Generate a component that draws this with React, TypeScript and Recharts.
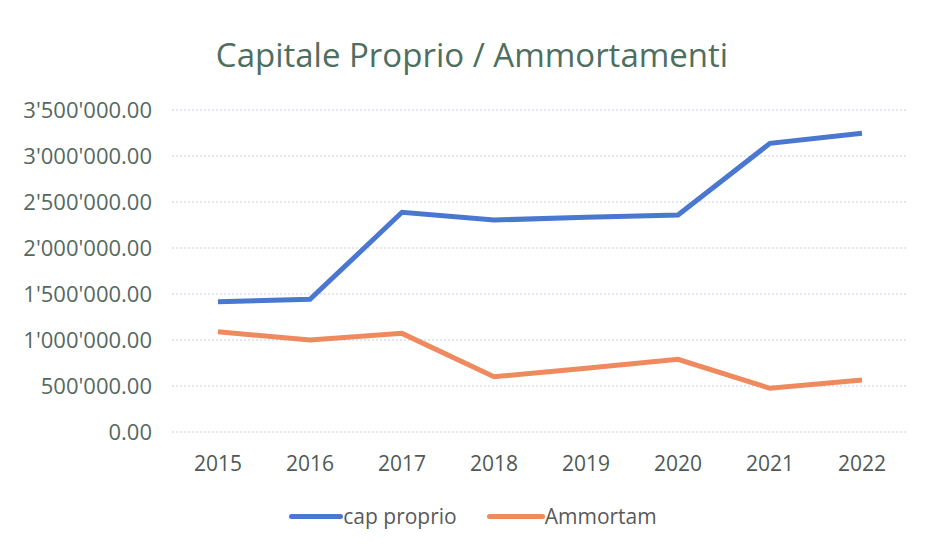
import React from "react";
import { LineChart, Line, XAxis, YAxis, CartesianGrid, Legend } from "recharts";

const years = ["2015", "2016", "2017", "2018", "2019", "2020", "2021", "2022"];
const capProprio = [1416000, 1442000, 2388000, 2304000, 2333000, 2359000, 3138000, 3247000];
const ammortam = [1090000, 1000000, 1072000, 601000, 692000, 790000, 475000, 565000];
const yTicks = [0, 500000, 1000000, 1500000, 2000000, 2500000, 3000000, 3500000];

const data = years.map((y, i) => ({ year: y, cap: capProprio[i], amm: ammortam[i] }));

const fmt = (v: number) => {
    const [int, dec] = v.toFixed(2).split(".");
    return int.replace(/\B(?=(\d{3})+(?!\d))/g, "'") + "." + dec;
};

const font = "'Open Sans', 'Noto Sans', sans-serif";

const LegendContent = () => (
    <div style={{ display: "flex", justifyContent: "center", alignItems: "center", fontFamily: font, fontSize: 21, color: "#595959", marginLeft: 38, height: 24 }}>
        <span style={{ display: "inline-block", width: 54, height: 5, background: "#4a78d0", borderRadius: 3 }} />
        <span style={{ marginRight: 30 }}>cap proprio</span>
        <span style={{ display: "inline-block", width: 58, height: 5, background: "#ee8a5e", borderRadius: 3 }} />
        <span>Ammortam</span>
    </div>
);

export default function App() {
    return (
        <div style={{ position: "absolute", left: 0, top: 0, width: 927, height: 548, background: "#fff" }}>
            <div style={{ position: "absolute", top: 32, left: 0, width: 944, textAlign: "center", fontFamily: font, fontSize: 33, color: "#4e6e60" }}>
                Capitale Proprio / Ammortamenti
            </div>
            <LineChart width={927} height={548} data={data} margin={{ top: 110, right: 19, bottom: 42, left: 0 }}>
                <CartesianGrid vertical={false} stroke="#c5cde0" strokeDasharray="2 2" />
                <XAxis
                    dataKey="year"
                    axisLine={false}
                    tickLine={false}
                    height={50}
                    padding={{ left: 46, right: 46 }}
                    tick={{ fill: "#4d5a55", fontSize: 21, fontFamily: font }}
                    tickMargin={18}
                />
                <YAxis
                    ticks={yTicks}
                    domain={[0, 3500000]}
                    tickFormatter={fmt}
                    axisLine={false}
                    tickLine={false}
                    width={172}
                    tick={{ fill: "#566960", fontSize: 22, fontFamily: font }}
                    tickMargin={14}
                />
                <Legend verticalAlign="bottom" content={<LegendContent />} wrapperStyle={{ bottom: 20 }} />
                <Line type="linear" dataKey="cap" stroke="#4a78d0" strokeWidth={5} dot={false} isAnimationActive={false} />
                <Line type="linear" dataKey="amm" stroke="#ee8a5e" strokeWidth={5} dot={false} isAnimationActive={false} />
            </LineChart>
        </div>
    );
}
